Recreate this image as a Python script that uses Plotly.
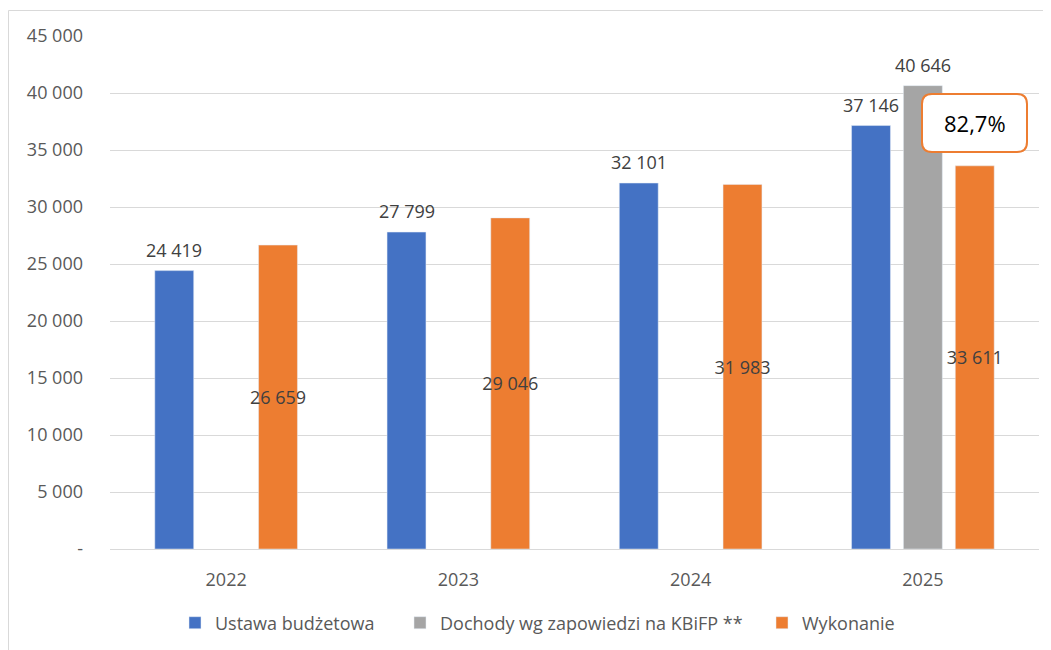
import plotly.graph_objects as go

years = ["2022", "2023", "2024", "2025"]
ustawa = [24419, 27799, 32101, 37146]
dochody = [None, None, None, 40646]
wykonanie = [26659, 29046, 31983, 33611]
y_tick_vals = [0, 5000, 10000, 15000, 20000, 25000, 30000, 35000, 40000, 45000]
y_tick_text = ["-", "5 000", "10 000", "15 000", "20 000", "25 000", "30 000", "35 000", "40 000", "45 000"]
names = ["Ustawa budżetowa", "Dochody wg zapowiedzi na KBiFP **", "Wykonanie"]
callout_text = "82,7%"

W, H = 1051, 650
OFF = 8  # page body margin
# reference pixel geometry of plot area
PL, PR, PT, PB = 110, 1039, 36, 549
ML, MT = PL - OFF, PT - OFF
MR = W - (PR - OFF)
MB = H - (PB - OFF)
PW, PH = PR - PL, PB - PT

FONT = "Open Sans"
LABEL_COLOR = "#404040"
AXIS_COLOR = "#595959"
FS = 18
BARGAP = 0.33
BARGROUPGAP = 0.25


def fmt(v):
    return "" if v is None else f"{v:,}".replace(",", " ")


def px2paper(px, py):
    return (px - PL) / PW, (PB - py) / PH


fig = go.Figure()
fig.add_trace(go.Bar(x=years, y=ustawa, name=names[0], marker_color="#4472C4", legend="legend"))
fig.add_trace(go.Bar(x=years, y=dochody, name=names[1], marker_color="#A5A5A5", legend="legend2"))
fig.add_trace(go.Bar(x=years, y=wykonanie, name=names[2], marker_color="#ED7D31", legend="legend3",
                     text=[fmt(v) for v in wykonanie], textposition="inside",
                     insidetextanchor="middle", cliponaxis=False, constraintext="none", textangle=0,
                     textfont=dict(size=FS, color=LABEL_COLOR, family=FONT)))

# outside value labels above blue and grey bars (group slot offsets)
cat_w = PW / len(years)
slot = cat_w * (1 - BARGAP) / 3
annotations = []
for series, shift in ((ustawa, -slot), (dochody, 0.0)):
    for i, v in enumerate(series):
        if v is None:
            continue
        annotations.append(dict(x=i, y=v, xref="x", yref="y", text=fmt(v), showarrow=False,
                                xshift=shift, yshift=7, yanchor="bottom", xanchor="center",
                                font=dict(size=FS, color=LABEL_COLOR, family=FONT)))

# rounded callout box
x0, y0, x1, y1, r = 922, 94, 1027, 152, 10
def P(px, py):
    a, b = px2paper(px, py)
    return f"{a:.5f},{b:.5f}"
path = (f"M {P(x0 + r, y0)} L {P(x1 - r, y0)} Q {P(x1, y0)} {P(x1, y0 + r)} "
        f"L {P(x1, y1 - r)} Q {P(x1, y1)} {P(x1 - r, y1)} "
        f"L {P(x0 + r, y1)} Q {P(x0, y1)} {P(x0, y1 - r)} "
        f"L {P(x0, y0 + r)} Q {P(x0, y0)} {P(x0 + r, y0)} Z")
shapes = [
    dict(type="path", xref="paper", yref="paper", path=path,
         line=dict(color="#ED7D31", width=2), fillcolor="white", layer="above"),
]
# outer chart border (cropped at right/bottom)
bx0, by0 = px2paper(8.5, 10.5)
bx1, by1 = px2paper(1080, 680)
shapes.append(dict(type="rect", xref="paper", yref="paper", x0=bx0, y0=by1, x1=bx1, y1=by0,
                   line=dict(color="#D9D9D9", width=1), fillcolor="rgba(0,0,0,0)", layer="below"))

cx, cy = px2paper((x0 + x1) / 2, (y0 + y1) / 2)
annotations.append(dict(xref="paper", yref="paper", x=cx, y=cy, text=callout_text, showarrow=False,
                        font=dict(size=22, color="#000000", family=FONT),
                        xanchor="center", yanchor="middle"))


def legend_at(px):
    lx, ly = px2paper(px, 623)
    return dict(orientation="h", x=lx, y=ly, xanchor="left", yanchor="middle",
                font=dict(size=FS, color=AXIS_COLOR, family=FONT),
                itemwidth=30, bgcolor="rgba(0,0,0,0)")


fig.update_layout(
    width=W, height=H,
    margin=dict(l=ML, r=MR, t=MT, b=MB, autoexpand=False),
    paper_bgcolor="white", plot_bgcolor="white",
    barmode="group", bargap=BARGAP, bargroupgap=BARGROUPGAP,
    font=dict(family=FONT, size=FS, color=AXIS_COLOR),
    showlegend=True,
    legend=legend_at(175),
    legend2=legend_at(400),
    legend3=legend_at(762),
    shapes=shapes, annotations=annotations,
)
fig.update_yaxes(range=[0, 45000], tickvals=y_tick_vals, ticktext=y_tick_text,
                 showgrid=True, gridcolor="#D9D9D9", gridwidth=1, zeroline=False,
                 showline=False, ticklabelstandoff=26,
                 tickfont=dict(size=FS, color=AXIS_COLOR, family=FONT))
fig.update_xaxes(type="category", categoryorder="array", categoryarray=years,
                 range=[-0.5, len(years) - 0.5],
                 showline=True, linecolor="#D9D9D9", linewidth=1, ticks="",
                 ticklabelstandoff=14,
                 tickfont=dict(size=FS, color=AXIS_COLOR, family=FONT))

fig.write_html("out.html")
